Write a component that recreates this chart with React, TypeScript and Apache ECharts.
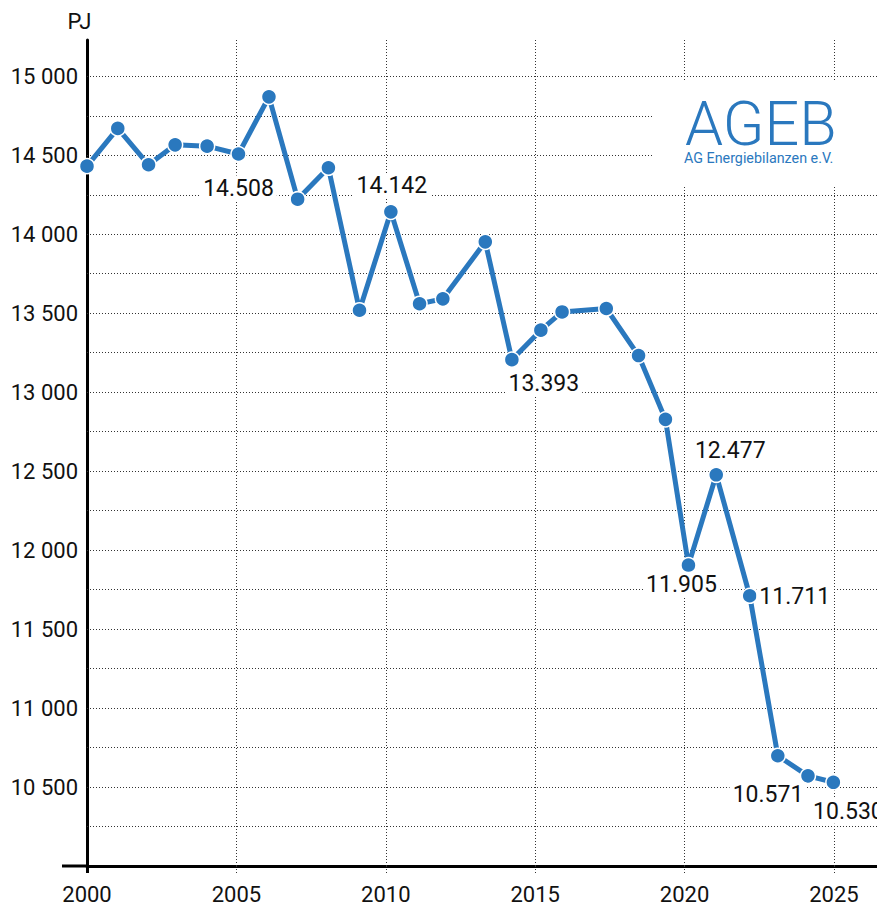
import { useEffect, useRef } from 'react';
import * as echarts from 'echarts';

// ---- data ----
const years = [2000, 2001, 2002, 2003, 2004, 2005, 2006, 2007, 2008, 2009, 2010, 2011, 2012,
  2013, 2014, 2015, 2016, 2017, 2018, 2019, 2020, 2021, 2022, 2023, 2024, 2025];
// position of each year's point along the time axis, as drawn in the reference
const xPositions = [2000.0, 2001.03, 2002.06, 2002.95, 2004.02, 2005.07, 2006.09, 2007.05, 2008.08,
  2009.12, 2010.17, 2011.13, 2011.91, 2013.33, 2014.22, 2015.19, 2015.9, 2017.38, 2018.46, 2019.36,
  2020.13, 2021.06, 2022.18, 2023.12, 2024.13, 2024.98];
const values = [14431, 14670, 14440, 14566, 14558, 14508, 14870, 14222, 14421, 13519, 14142, 13560,
  13591, 13952, 13206, 13393, 13508, 13530, 13232, 12828, 11905, 12477, 11711, 10698, 10571, 10530];
const labeledYears = [2005, 2010, 2015, 2020, 2021, 2022, 2024, 2025];
const yTickLabels = [10500, 11000, 11500, 12000, 12500, 13000, 13500, 14000, 14500, 15000];
const yGridValues = [10250, 10500, 10750, 11000, 11250, 11500, 11750, 12000, 12250, 12500, 12750,
  13000, 13250, 13500, 13750, 14000, 14250, 14500, 14750, 15000];
const xTickLabels = [2000, 2005, 2010, 2015, 2020, 2025];
const xGridYears = [2005, 2010, 2015, 2020, 2025];
const unitLabel = 'PJ';
const logoTitle = 'AGEB';
const logoSubtitle = 'AG Energiebilanzen e.V.';

// ---- styles ----
const BLUE = '#2a78be';
const FONT = "Roboto, 'Noto Sans', sans-serif";
const labelOffsets: Record<number, [number, number]> = {
  2005: [0, 34],
  2010: [1, -26],
  2015: [3, 53],
  2020: [-7, 19],
  2021: [14, -24],
  2022: [45, 1],
  2024: [-40, 19],
  2025: [15, 29],
};

const fmtDot = (v: number) => Math.floor(v / 1000) + '.' + String(Math.round(v % 1000)).padStart(3, '0');
const fmtSpace = (v: number) => Math.floor(v / 1000) + ' ' + String(Math.round(v % 1000)).padStart(3, '0');

export default function App() {
  const ref = useRef<HTMLDivElement>(null);
  useEffect(() => {
    if (!ref.current) return;
    const chart = echarts.init(ref.current, undefined, { renderer: 'svg' });
    const option: any = {
      animation: false,
      backgroundColor: '#fff',
      grid: { left: 87, right: 0, top: 40, bottom: 40, containLabel: false },
      xAxis: {
        type: 'value',
        min: 2000,
        max: 2026.44,
        interval: 5,
        splitLine: { show: false },
        axisLine: { show: true, lineStyle: { color: '#000', width: 3 } },
        axisTick: {
          show: true,
          customValues: xGridYears,
          length: 7,
          lineStyle: { color: '#333', width: 1, type: [1, 2] },
        },
        axisLabel: {
          customValues: xTickLabels,
          formatter: (v: number) => String(v),
          color: '#111',
          fontSize: 22,
          fontFamily: FONT,
          margin: 17,
        },
      },
      yAxis: {
        type: 'value',
        min: 10000,
        max: 15230,
        interval: 500,
        splitLine: { show: false },
        axisLine: { show: true, onZero: false, lineStyle: { color: '#000', width: 3 } },
        axisTick: { show: false },
        axisLabel: {
          customValues: yTickLabels,
          formatter: (v: number) => fmtSpace(v),
          color: '#111',
          fontSize: 22,
          fontFamily: FONT,
          margin: 9,
          padding: [0, 0, 6, 0],
        },
      },
      series: [
        {
          type: 'line',
          data: [],
          silent: true,
          z: 1,
          markLine: {
            silent: true,
            symbol: 'none',
            z: 1,
            animation: false,
            label: { show: false },
            lineStyle: { color: '#333', width: 1, type: [1, 2] },
            emphasis: { disabled: true },
            data: [
              ...yGridValues.map((v) => ({ yAxis: v })),
              ...xGridYears.map((v) => ({ xAxis: v })),
            ],
          },
        },
        {
          type: 'line',
          z: 3,
          clip: false,
          symbol: 'circle',
          symbolSize: 15,
          showSymbol: true,
          lineStyle: { color: BLUE, width: 5 },
          itemStyle: { color: BLUE, borderColor: '#fff', borderWidth: 1.5 },
          emphasis: { disabled: true },
          label: {
            formatter: (p: any) => fmtDot(p.value[1]),
            color: '#111',
            fontSize: 23,
            fontFamily: FONT,
            backgroundColor: '#fff',
            padding: [1, 3],
          },
          data: years.map((y, i) => ({
            value: [xPositions[i], values[i]],
            label: labeledYears.includes(y)
              ? { show: true, position: 'inside', offset: labelOffsets[y] || [0, 0] }
              : { show: false },
          })),
        },
      ],
      graphic: [
        { type: 'line', z: 5, shape: { x1: 62, y1: 866, x2: 88, y2: 866 }, style: { stroke: '#000', lineWidth: 3 } },
        { type: 'line', z: 5, shape: { x1: 87.5, y1: 866, x2: 87.5, y2: 873 }, style: { stroke: '#000', lineWidth: 3 } },
        {
          type: 'text', z: 5,
          style: { text: unitLabel, x: 79.5, y: 21, textAlign: 'center', textVerticalAlign: 'middle', font: `22px ${FONT}`, fill: '#111' },
        },
        { type: 'rect', z: 10, shape: { x: 652, y: 82, width: 225, height: 105 }, style: { fill: '#fff' } },
        {
          type: 'text', z: 11,
          style: { text: logoTitle, x: 685, y: 124, textAlign: 'left', textVerticalAlign: 'middle', font: `300 61px ${FONT}`, lineHeight: 46, fill: BLUE },
        },
        {
          type: 'text', z: 11,
          style: { text: logoSubtitle, x: 684, y: 158, textAlign: 'left', textVerticalAlign: 'middle', font: `14.3px ${FONT}`, lineHeight: 15, fill: BLUE },
        },
      ],
    };
    chart.setOption(option);
    return () => chart.dispose();
  }, []);
  return <div ref={ref} style={{ position: 'absolute', left: 0, top: 0, width: 877, height: 906 }} />;
}
